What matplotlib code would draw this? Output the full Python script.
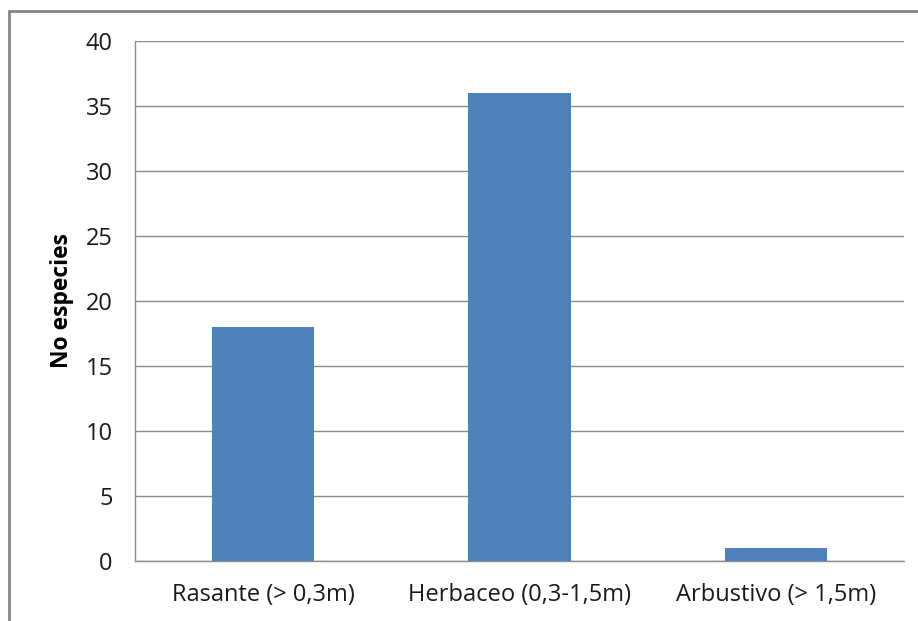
import matplotlib
matplotlib.use('Agg')
import matplotlib.pyplot as plt
from matplotlib.patches import Rectangle

categories = ['Rasante (> 0,3m)', 'Herbaceo (0,3-1,5m)', 'Arbustivo (> 1,5m)']
values = [18, 36, 1]
yticks = [0, 5, 10, 15, 20, 25, 30, 35, 40]

plt.rcParams['font.family'] = ['Open Sans', 'DejaVu Sans']

fig = plt.figure(figsize=(9.18, 6.21), dpi=100)
ax = fig.add_axes([135 / 918, 60 / 621, 769 / 918, 520 / 621])

grid_c = '#8c8c8c'
ax.bar(range(len(values)), values, width=0.4, color='#4f81bd', zorder=3)

ax.set_xlim(-0.5, len(values) - 0.5)
ax.set_ylim(0, 40)
ax.set_yticks(yticks)
ax.set_xticks(range(len(categories)))
ax.set_xticklabels(categories)
ax.yaxis.grid(True, color=grid_c, lw=1)
ax.set_axisbelow(True)

for s in ['top', 'right']:
    ax.spines[s].set_visible(False)
for s in ['left', 'bottom']:
    ax.spines[s].set_color(grid_c)
    ax.spines[s].set_linewidth(1)

ax.tick_params(length=0, labelsize=17, colors='#1a1a1a')
ax.tick_params(axis='y', pad=16)
ax.tick_params(axis='x', pad=16)

# y axis title
fig.text(62 / 918, 1 - 301 / 621, 'No especies', rotation=90, ha='center',
         va='center', fontsize=16.5, weight='bold', color='#000000')

# outer chart frame (cut off at right and bottom)
fig.patches.append(Rectangle((9 / 918, -0.1), 1.0, (621 - 11) / 621 + 0.1,
                             transform=fig.transFigure, fill=False,
                             ec='#868686', lw=2))

fig.savefig('out.png', dpi=100)
